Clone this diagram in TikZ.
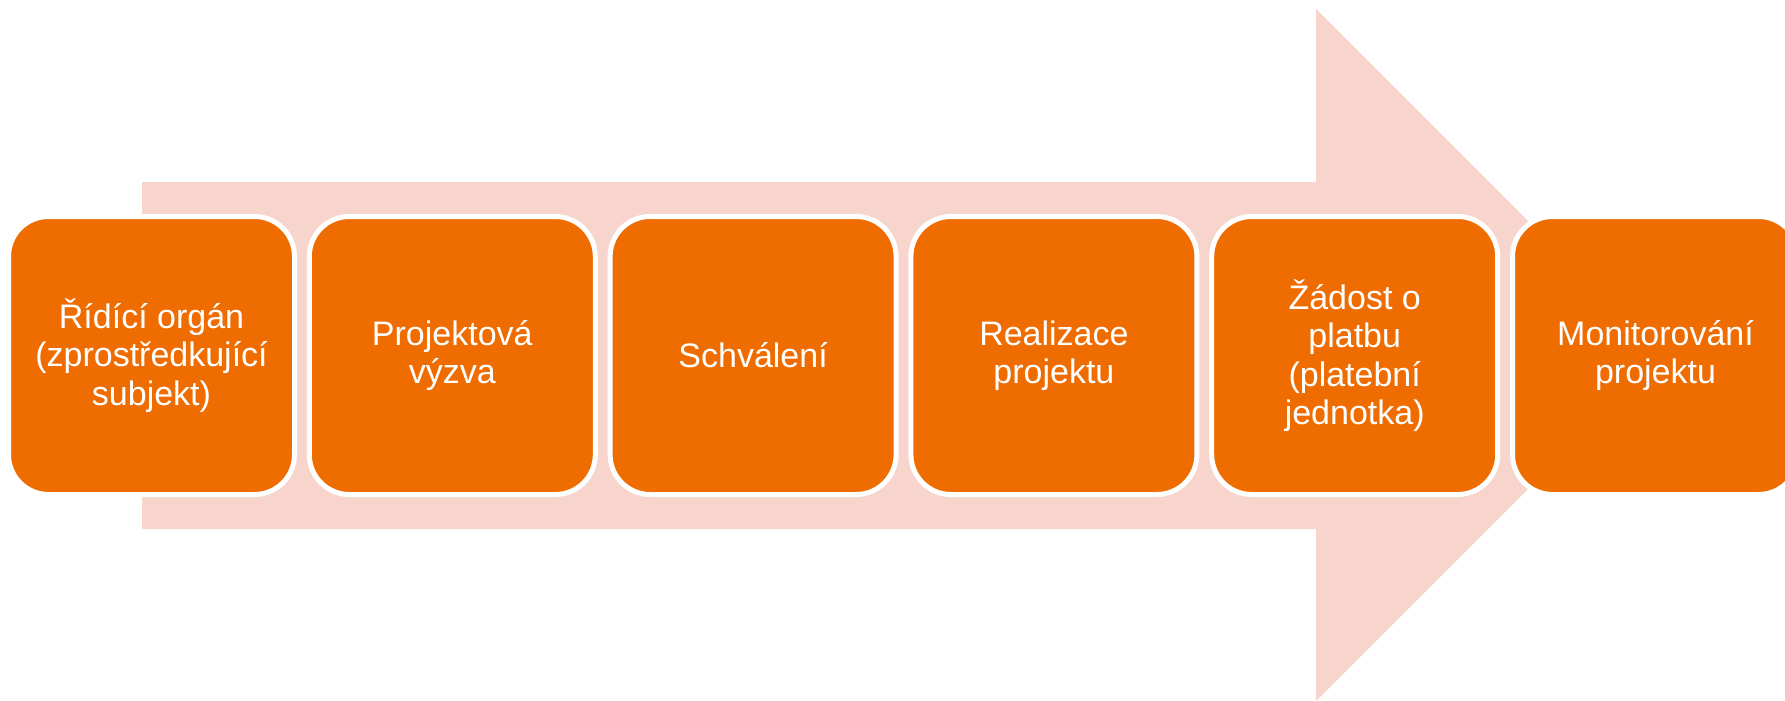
\documentclass[tikz,border=0pt]{standalone}
\usepackage{fontspec}
\setmainfont{Liberation Sans}
\usetikzlibrary{shapes,backgrounds}
\definecolor{stepfill}{RGB}{239,108,0}
\definecolor{arrowfill}{RGB}{248,213,204}
\tikzstyle{stage}=[rectangle,rounded corners=40pt,fill=stepfill,draw=white,
  			  line width=5pt,minimum width=286pt,minimum height=278pt,
  			  inner sep=0pt,align=center,text=white,
  			  font=\fontsize{34}{38.5}\selectfont]
\tikzstyle{bigarrow}=[fill=arrowfill,draw=none]

\begin{document}
\begin{tikzpicture}[x=1pt,y=-1pt,node distance=300.8pt]

	\useasboundingbox (0,0) rectangle (1785,701);

	% background arrow
	\fill[bigarrow] (142,182) -- (1316,182) -- (1316,9) -- (1662,355)
		-- (1316,701) -- (1316,529) -- (142,529) -- cycle;

	\node[stage] (s1) at (151.5,355.5) {Řídící orgán\\(zprostředkující\\subjekt)};
	\node[stage] (s2) [right of=s1] {Projektová\\výzva};
	\node[stage] (s3) [right of=s2] {Schválení};
	\node[stage] (s4) [right of=s3] {Realizace\\projektu};
	\node[stage] (s5) [right of=s4] {Žádost o\\platbu\\(platební\\jednotka)};
	\node[stage] (s6) [right of=s5] {Monitorování\\projektu};
\end{tikzpicture}
\end{document}
